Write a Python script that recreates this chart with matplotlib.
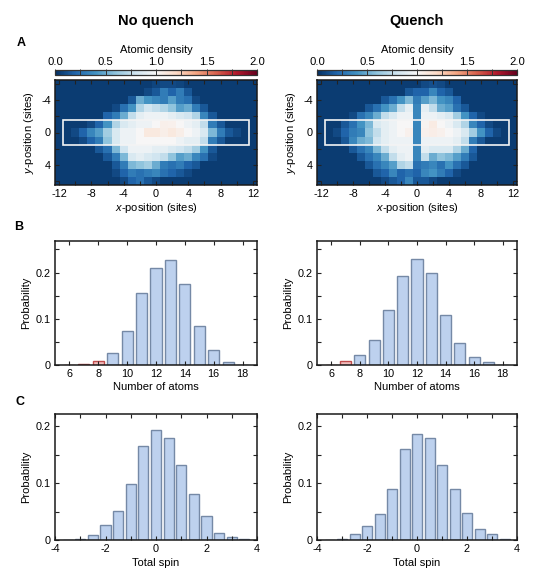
import numpy as np
import matplotlib
matplotlib.use("Agg")
import matplotlib.pyplot as plt
from matplotlib.patches import Rectangle
from matplotlib.ticker import MultipleLocator

plt.rcParams['font.family'] = ['Liberation Sans', 'DejaVu Sans']
plt.rcParams['mathtext.fontset'] = 'custom'
plt.rcParams['mathtext.rm'] = 'Liberation Sans'
plt.rcParams['mathtext.it'] = 'Liberation Sans:italic'
plt.rcParams['axes.unicode_minus'] = False

# ---------------- data ----------------
x_sites = list(range(-12, 13))
y_sites = list(range(-6, 7))

density_no_quench = [
    [.05,.05,.05,.05,.05,.05,.05,.05,.05,.05,.05,.05,.08,.10,.10,.08,.05,.05,.05,.05,.05,.05,.05,.05,.05],
    [.05,.05,.05,.05,.05,.05,.05,.05,.05,.05,.05,.10,.15,.30,.20,.30,.15,.05,.05,.05,.05,.05,.05,.05,.05],
    [.05,.05,.05,.05,.05,.05,.05,.05,.05,.15,.50,.40,.35,.30,.45,.30,.25,.10,.05,.05,.05,.05,.05,.05,.05],
    [.05,.05,.05,.05,.05,.05,.05,.10,.25,.40,.70,.80,.75,.70,.60,.45,.50,.30,.15,.05,.05,.05,.05,.05,.05],
    [.05,.05,.05,.05,.05,.05,.20,.30,.50,.75,.90,.95,.95,.95,.90,.85,.80,.70,.35,.15,.05,.05,.05,.05,.05],
    [.05,.05,.05,.05,.10,.20,.40,.70,.85,.90,.95,.95,1.00,1.05,1.04,1.00,.95,.90,.75,.30,.15,.05,.05,.05,.05],
    [.05,.05,.10,.20,.35,.45,.65,.85,.95,.95,1.00,1.10,1.10,1.06,1.10,1.06,1.00,.95,.85,.55,.30,.15,.10,.05,.05],
    [.05,.05,.05,.10,.20,.30,.60,.85,.95,.95,1.00,1.00,1.00,1.00,1.00,.95,.90,.90,.75,.30,.15,.05,.05,.05,.05],
    [.05,.05,.05,.05,.05,.15,.25,.55,.80,.95,.95,.95,.90,.90,.85,.80,.75,.65,.40,.15,.05,.05,.05,.05,.05],
    [.05,.05,.05,.05,.05,.05,.15,.30,.55,.85,.90,.85,.80,.75,.60,.45,.50,.35,.25,.10,.05,.05,.05,.05,.05],
    [.05,.05,.05,.05,.05,.05,.05,.15,.30,.55,.60,.65,.50,.30,.25,.30,.20,.15,.05,.05,.05,.05,.05,.05,.05],
    [.05,.05,.05,.05,.05,.05,.05,.10,.20,.30,.25,.30,.35,.25,.20,.15,.10,.05,.05,.05,.05,.05,.05,.05,.05],
    [.05,.05,.05,.05,.05,.05,.05,.05,.10,.20,.25,.15,.10,.05,.05,.05,.05,.05,.05,.05,.05,.05,.05,.05,.05],
]

density_quench = [
    [.05,.05,.05,.05,.05,.05,.05,.05,.05,.05,.05,.05,.05,.10,.12,.10,.05,.05,.05,.05,.05,.05,.05,.05,.05],
    [.05,.05,.05,.05,.05,.05,.05,.05,.05,.05,.05,.15,.20,.20,.35,.20,.15,.05,.05,.05,.05,.05,.05,.05,.05],
    [.05,.05,.05,.05,.05,.05,.05,.05,.15,.25,.40,.55,.30,.45,.55,.40,.35,.20,.05,.05,.05,.05,.05,.05,.05],
    [.05,.05,.05,.05,.05,.05,.15,.25,.40,.50,.75,.90,.35,.90,.75,.50,.45,.25,.15,.05,.05,.05,.05,.05,.05],
    [.05,.05,.05,.05,.10,.25,.35,.50,.75,.85,.95,.95,.35,.95,.95,.90,.85,.65,.40,.20,.10,.05,.05,.05,.05],
    [.05,.05,.05,.15,.25,.40,.55,.85,.90,.95,1.00,1.00,.35,1.03,1.08,1.00,.95,.85,.70,.35,.20,.10,.05,.05,.05],
    [.05,.05,.10,.20,.30,.35,.60,.75,.90,.95,1.00,1.04,.35,1.04,1.07,1.04,1.00,.95,.85,.65,.40,.20,.10,.05,.05],
    [.05,.05,.05,.15,.35,.50,.55,.80,.90,.95,.95,.95,.35,.95,.95,.95,.95,.90,.75,.30,.15,.05,.05,.05,.05],
    [.05,.05,.05,.05,.15,.25,.35,.55,.75,.90,.95,.95,.35,.90,.85,.85,.85,.70,.50,.20,.05,.05,.05,.05,.05],
    [.05,.05,.05,.05,.05,.15,.25,.35,.50,.75,.90,.95,.35,.75,.50,.60,.55,.45,.30,.15,.05,.05,.05,.05,.05],
    [.05,.05,.05,.05,.05,.05,.15,.25,.35,.45,.70,.75,.25,.30,.35,.25,.40,.25,.15,.05,.05,.05,.05,.05,.05],
    [.05,.05,.05,.05,.05,.05,.05,.15,.20,.35,.20,.25,.20,.35,.40,.30,.20,.10,.05,.05,.05,.05,.05,.05,.05],
    [.05,.05,.05,.05,.05,.05,.05,.05,.10,.15,.20,.35,.15,.15,.10,.05,.05,.05,.05,.05,.05,.05,.05,.05,.05],
]

atom_numbers = [6, 7, 8, 9, 10, 11, 12, 13, 14, 15, 16, 17, 18]
p_atoms_no_quench = [0.001, 0.002, 0.008, 0.025, 0.074, 0.155, 0.211, 0.228, 0.176, 0.085, 0.033, 0.007, 0.001]
p_atoms_quench    = [0.001, 0.008, 0.022, 0.055, 0.118, 0.192, 0.230, 0.200, 0.109, 0.048, 0.017, 0.006, 0.001]
red_max_no_quench = 8   # bars up to this atom number drawn in red
red_max_quench = 7

total_spin = [-3.5, -3.0, -2.5, -2.0, -1.5, -1.0, -0.5, 0.0, 0.5, 1.0, 1.5, 2.0, 2.5, 3.0, 3.5]
p_spin_no_quench = [0.0005, 0.002, 0.008, 0.027, 0.051, 0.098, 0.166, 0.194, 0.179, 0.133, 0.081, 0.042, 0.013, 0.006, 0.001]
p_spin_quench    = [0.0005, 0.002, 0.011, 0.025, 0.045, 0.090, 0.161, 0.186, 0.180, 0.133, 0.090, 0.048, 0.019, 0.011, 0.002]

titles = ["No quench", "Quench"]

# ---------------- layout helpers ----------------
W, H = 540, 585
fig = plt.figure(figsize=(W / 100, H / 100), dpi=100)

def ax_px(x0, y0, x1, y1):
    return fig.add_axes([x0 / W, 1 - y1 / H, (x1 - x0) / W, (y1 - y0) / H])

TICK_FS = 7.8
LAB_FS = 8
BAR_FC = '#bdd1ee'
BAR_EC = '#7589a6'
RED_FC = '#f1bcbc'
RED_EC = '#c04c4c'

def style(ax):
    for s in ax.spines.values():
        s.set_linewidth(1.1)
        s.set_color('#1a1a1a')
    ax.tick_params(which='both', direction='in', top=True, right=True,
                   labelsize=TICK_FS, width=0.8, pad=3, color='#222222')
    ax.tick_params(which='major', length=3)
    ax.tick_params(which='minor', length=3)

cols = [(55, 257), (317, 517)]
densities = [density_no_quench, density_quench]
for i, (x0, x1) in enumerate(cols):
    # heatmap
    ax = ax_px(x0, 80, x1, 185)
    im = ax.imshow(np.array(densities[i]), cmap='RdBu_r', vmin=0, vmax=2,
                   extent=(min(x_sites) - 0.5, max(x_sites) + 0.5,
                           max(y_sites) + 0.5, min(y_sites) - 0.5),
                   aspect='auto', interpolation='nearest')
    ax.add_patch(Rectangle((-11.5, -1.5), 23, 3, fill=False, ec='#f4f4f4', lw=1.2))
    style(ax)
    ax.xaxis.set_major_locator(MultipleLocator(4))
    ax.xaxis.set_minor_locator(MultipleLocator(2))
    ax.yaxis.set_major_locator(MultipleLocator(4))
    ax.yaxis.set_minor_locator(MultipleLocator(2))
    ax.set_xlabel(r'$x$-position (sites)', fontsize=LAB_FS, labelpad=1)
    ax.set_ylabel(r'$y$-position (sites)', fontsize=LAB_FS, labelpad=4)

    # colorbar
    cax = ax_px(x0, 70, x1, 75.3)
    cb = fig.colorbar(im, cax=cax, orientation='horizontal')
    cb.set_ticks([0, 0.5, 1.0, 1.5, 2.0])
    cb.ax.xaxis.set_minor_locator(MultipleLocator(0.25))
    cax.tick_params(which='both', direction='in', top=False, bottom=True,
                    labeltop=True, labelbottom=False, length=4, width=0.7,
                    color='#333333', labelsize=TICK_FS + 0.3, pad=2)
    cb.outline.set_linewidth(0.9)
    cb.outline.set_edgecolor('#333333')
    cax.set_xlabel('Atomic density', fontsize=LAB_FS)
    cax.xaxis.set_label_position('top')
    cax.xaxis.labelpad = 3

    fig.text((x0 + x1) / 2 / W, 1 - 21 / H, titles[i], ha='center', va='center',
             fontsize=10.5, fontweight='bold')

    # B histogram
    axb = ax_px(x0, 240.7, x1, 365)
    p = [p_atoms_no_quench, p_atoms_quench][i]
    rmax = [red_max_no_quench, red_max_quench][i]
    fcs = [RED_FC if n <= rmax else BAR_FC for n in atom_numbers]
    ecs = [RED_EC if n <= rmax else BAR_EC for n in atom_numbers]
    axb.bar(atom_numbers, p, width=0.78, color=fcs, edgecolor=ecs, linewidth=1.0)
    axb.set_xlim(5, 19)
    axb.set_ylim(0, 0.269)
    style(axb)
    axb.xaxis.set_major_locator(MultipleLocator(2))
    axb.yaxis.set_minor_locator(MultipleLocator(0.05))
    axb.set_yticks([0, 0.1, 0.2])
    axb.set_yticklabels(['0', '0.1', '0.2'])
    axb.set_xlabel('Number of atoms', fontsize=LAB_FS, labelpad=2)
    axb.set_ylabel('Probability', fontsize=LAB_FS, labelpad=3)

    # C histogram
    axc = ax_px(x0, 414, x1, 540)
    ps = [p_spin_no_quench, p_spin_quench][i]
    axc.bar(total_spin, ps, width=0.4, color=BAR_FC, edgecolor=BAR_EC, linewidth=1.0)
    axc.set_xlim(-4, 4)
    axc.set_ylim(0, 0.222)
    style(axc)
    axc.xaxis.set_major_locator(MultipleLocator(2))
    axc.xaxis.set_minor_locator(MultipleLocator(1))
    axc.yaxis.set_minor_locator(MultipleLocator(0.05))
    axc.set_yticks([0, 0.1, 0.2])
    axc.set_yticklabels(['0', '0.1', '0.2'])
    axc.set_xlabel('Total spin', fontsize=LAB_FS, labelpad=3)
    axc.set_ylabel('Probability', fontsize=LAB_FS, labelpad=3)

for lab, (px, py) in zip('ABC', [(21, 43), (19, 227), (20, 402)]):
    fig.text(px / W, 1 - py / H, lab, ha='center', va='center', fontsize=9, fontweight='bold')

fig.savefig('out.png', dpi=100)
